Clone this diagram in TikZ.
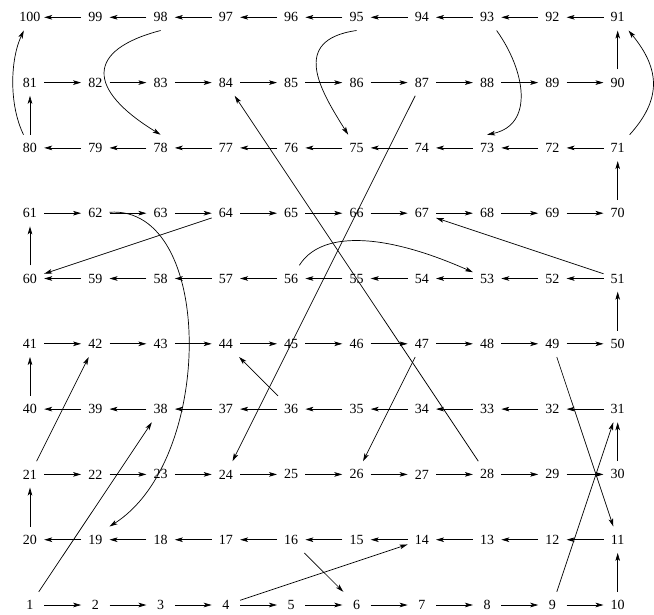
\documentclass[tikz,border=0pt]{standalone}
\usepackage{fontspec}
\setmainfont{Liberation Serif}
\usepackage{tikz}
\usetikzlibrary{arrows.meta}

\begin{document}
\begin{tikzpicture}[
  x=1pt,y=-1pt,
  font=\fontsize{14pt}{16pt}\selectfont,
  cell/.style={minimum width=28pt,minimum height=26pt,inner sep=0pt},
  walk/.style={line width=0.7pt,-{Stealth[length=8pt,width=4.6pt,inset=2pt]}}
]
\def\S{65.3}
\def\Xo{30}
\def\Yo{605}
\useasboundingbox (0,0) rectangle (654,614);
% board squares, boustrophedon order
\foreach \n in {1,...,100} {
  \pgfmathtruncatemacro\r{(\n-1)/10}
  \pgfmathtruncatemacro\c{mod(\n-1,10)}
  \pgfmathtruncatemacro\cc{isodd(\r) ? 9-\c : \c}
  \node[cell] (n\n) at ({\Xo+\cc*\S},{\Yo-\r*\S}) {\n};
}
% one step at a time
\foreach \n [count=\m from 2] in {1,...,99} {\draw[walk] (n\n) -- (n\m);}
% straight jumps
\foreach \a/\b in {1/38,4/14,9/31,16/6,21/42,28/84,36/44,47/26,49/11,51/67,64/60,87/24}
  {\draw[walk] (n\a) -- (n\b);}
% curved jumps
\draw[walk] (n80) .. controls (9,105) and (10,60) .. (n100);
\draw[walk] (n98.south) .. controls (86,50) and (86,89) .. (n78.north);
\draw[walk] (n95.south) .. controls (290,40) and (320,90) .. (n75);
\draw[walk] (n93) .. controls (525,70) and (535,125) .. (n73.north);
\draw[walk] (n71) .. controls (661,100) and (661,70) .. (n91);
\draw[walk] (n56) .. controls (320,232) and (380,231) .. (n53);
\draw[walk] (n62) .. controls (215,205) and (215,460) .. (n19.north east);
\end{tikzpicture}
\end{document}
